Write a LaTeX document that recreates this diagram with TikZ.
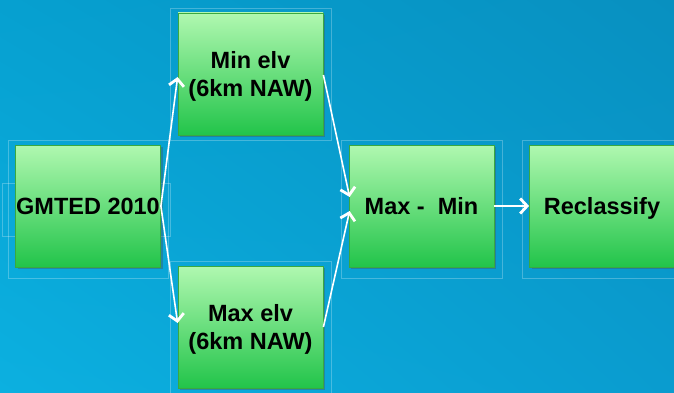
\documentclass[tikz,border=0pt]{standalone}
\usepackage{fontspec}
\setmainfont{Liberation Sans}
\usetikzlibrary{arrows.meta,shadows,shadings}
\definecolor{bgTL}{HTML}{06A0D0}
\definecolor{bgTR}{HTML}{0890C0}
\definecolor{bgBL}{HTML}{0CB0E0}
\definecolor{bgBR}{HTML}{0A9CCF}
\definecolor{boxtop}{HTML}{B0F8B0}
\definecolor{boxbot}{HTML}{22C44A}
\definecolor{boxedge}{HTML}{3AA840}
\newcommand\hstrut{\rule[-8.4pt]{0pt}{34pt}}
\tikzset{
  stepbox/.style={rectangle, minimum width=145pt, minimum height=122pt,
    top color=boxtop, bottom color=boxbot, draw=boxedge, line width=0.8pt,
    drop shadow={shadow xshift=2pt, shadow yshift=-2pt, opacity=0.35, fill=black!70},
    font=\bfseries\fontsize{23.5}{28}\selectfont, align=center, inner sep=0pt},
  frame/.style={draw=white, draw opacity=0.25, line width=0.6pt},
  flow/.style={white, line width=1.6pt, -{Straight Barb[length=7pt,width=15pt,line width=2.8pt]}}
}
\begin{document}
\begin{tikzpicture}[x=1pt,y=-1pt]
\useasboundingbox (0,0) rectangle (674,393);
\shade[upper left=bgTL, upper right=bgTR, lower left=bgBL, lower right=bgBR] (0,0) rectangle (674,393);
% faint frames
\draw[frame] (8,140) rectangle (168,278);
\draw[frame] (2,183) rectangle (170,236);
\draw[frame] (170,8) rectangle (331,140);
\draw[frame] (170,261) rectangle (331,393);
\draw[frame] (341,140) rectangle (502,278);
\draw[frame] (522,140) rectangle (674,278);
% boxes
\node[stepbox] (g) at (88,206) {\hstrut GMTED 2010};
\node[stepbox] (mn) at (250.5,74) {\hstrut Min elv\\\strut(6km NAW)};
\node[stepbox] (mx) at (250.5,327) {\hstrut Max elv\\\strut(6km NAW)};
\node[stepbox] (d) at (421.5,206) {\hstrut Max -\ \ Min};
\node[stepbox] (r) at (602,206) {\hstrut Reclassify};
% connectors
\draw[flow] (g.east) -- ([yshift=-3pt]mn.west);
\draw[flow] (g.east) -- ([yshift=4pt]mx.west);
\draw[flow] ([yshift=-1pt]mn.east) -- ([yshift=9pt,xshift=1pt]d.west);
\draw[flow] (mx.east) -- ([yshift=-5pt,xshift=1pt]d.west);
\draw[flow] (d.east) -- (r.west);
\end{tikzpicture}
\end{document}
